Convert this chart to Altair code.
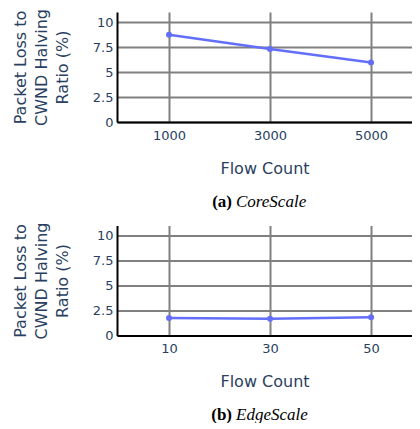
import altair as alt
import pandas as pd

core_flows = [1000, 3000, 5000]
core_ratio = [8.72, 7.30, 5.95]
edge_flows = [10, 30, 50]
edge_ratio = [1.75, 1.68, 1.82]

y_ticks = [0, 2.5, 5, 7.5, 10]
captions = [("(a)", "CoreScale"), ("(b)", "EdgeScale")]

LINE = "#636efa"
TXT = "#2a3f5f"
W, H = 295, 110
CAP_Y = 194.5


def panel(xs, ys, xdomain, label, name):
    df = pd.DataFrame({"flows": xs, "ratio": ys})
    base = alt.Chart(df).encode(
        x=alt.X(
            "flows:Q",
            scale=alt.Scale(domain=xdomain, nice=False, zero=False),
            axis=alt.Axis(values=xs, format="d", title="Flow Count"),
        ),
        y=alt.Y(
            "ratio:Q",
            scale=alt.Scale(domain=[0, 11], nice=False),
            axis=alt.Axis(
                values=y_ticks,
                labelExpr="datum.value + ''",
                title=["Packet Loss to", "CWND Halving", "Ratio (%)"],
            ),
        ),
    )
    line = base.mark_line(color=LINE, strokeWidth=2.5)
    pts = base.mark_circle(color=LINE, size=36, opacity=1)
    lab = alt.Chart(pd.DataFrame({"t": [label]})).mark_text(
        font="Liberation Serif", fontSize=17, fontWeight="bold", color="black",
        align="right", baseline="alphabetic",
    ).encode(text="t:N", x=alt.value(115), y=alt.value(CAP_Y))
    nm = alt.Chart(pd.DataFrame({"t": [name]})).mark_text(
        font="Liberation Serif", fontSize=17, fontStyle="italic", color="black",
        align="left", baseline="alphabetic",
    ).encode(text="t:N", x=alt.value(119), y=alt.value(CAP_Y))
    return alt.layer(line, pts, lab, nm).properties(width=W, height=H)


top = panel(core_flows, core_ratio, [-30, 5812], *captions[0])
bottom = panel(edge_flows, edge_ratio, [-0.3, 58.1], *captions[1])

chart = (
    alt.vconcat(top, bottom, spacing=11.5)
    .properties(padding={"left": 4, "top": 0, "right": 0, "bottom": 0})
    .configure_view(stroke=None)
    .configure_axis(
        grid=True,
        gridColor="#808080",
        gridWidth=2,
        domainColor="black",
        domainWidth=2,
        ticks=False,
        labelFont="DejaVu Sans",
        labelFontSize=13,
        labelColor=TXT,
        titleFont="DejaVu Sans",
        titleFontSize=16,
        titleFontWeight="normal",
        titleColor=TXT,
    )
    .configure_axisX(labelPadding=7, titlePadding=18)
    .configure_axisY(labelPadding=4, titlePadding=22, titleLineHeight=21)
)

chart.save("out.html", embed_options={"renderer": "svg", "actions": False})
